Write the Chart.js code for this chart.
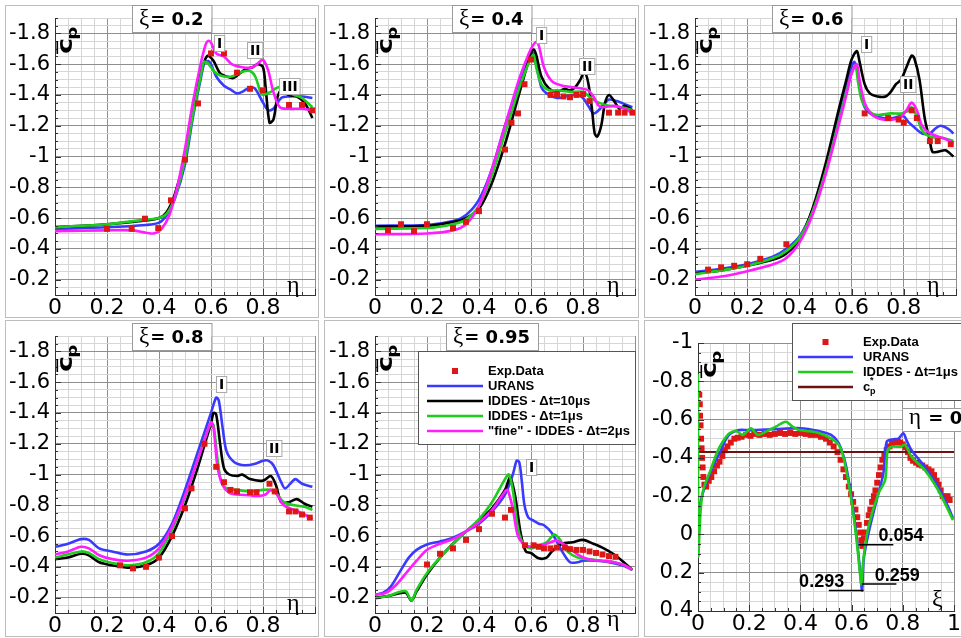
<!DOCTYPE html>
<html>
<head>
<meta charset="utf-8">
<script src="https://cdn.jsdelivr.net/npm/chart.js@4.4.1/dist/chart.umd.min.js"></script>
<style>
  body { margin: 0; background: #fff; }
  #wrap { position: relative; width: 961px; height: 638px; overflow: hidden; background: #fff; }
  .frame { position: absolute; border: 1px solid #bdbdbd; box-sizing: border-box; }
  canvas { position: absolute; }
</style>
</head>
<body>
<div id="wrap">
  <div class="frame" style="left:5px;top:5px;width:314px;height:313px"></div>
  <div class="frame" style="left:324px;top:5px;width:315px;height:313px"></div>
  <div class="frame" style="left:644px;top:5px;width:322px;height:313px"></div>
  <div class="frame" style="left:5px;top:320px;width:314px;height:317px"></div>
  <div class="frame" style="left:324px;top:320px;width:315px;height:317px"></div>
  <div class="frame" style="left:644px;top:320px;width:322px;height:317px"></div>
  <canvas id="p1" width="320" height="318" style="left:0;top:0"></canvas>
  <canvas id="p2" width="320" height="318" style="left:320px;top:0"></canvas>
  <canvas id="p3" width="321" height="318" style="left:640px;top:0"></canvas>
  <canvas id="p4" width="320" height="318" style="left:0;top:318px"></canvas>
  <canvas id="p5" width="320" height="318" style="left:320px;top:318px"></canvas>
  <canvas id="p6" width="321" height="320" style="left:640px;top:318px"></canvas>
</div>
<script>
// ---- xi = 0.2 ----
const xi02_exp = [[0.2,-0.53],[0.295,-0.53],[0.346,-0.596],[0.397,-0.535],[0.446,-0.715],[0.5,-0.98],[0.55,-1.345],[0.6,-1.67],[0.65,-1.67],[0.7,-1.545],[0.75,-1.44],[0.8,-1.43],[0.9,-1.335],[0.95,-1.335],[0.99,-1.3]];
const xi02_urans = [[0,-0.53],[0.2,-0.54],[0.35,-0.555],[0.4,-0.57],[0.43,-0.62],[0.46,-0.72],[0.5,-0.95],[0.53,-1.25],[0.56,-1.5],[0.575,-1.61],[0.59,-1.62],[0.6,-1.6],[0.62,-1.52],[0.65,-1.46],[0.68,-1.43],[0.7,-1.41],[0.72,-1.42],[0.75,-1.45],[0.77,-1.44],[0.8,-1.35],[0.82,-1.3],[0.84,-1.31],[0.87,-1.38],[0.9,-1.39],[0.95,-1.39],[0.99,-1.38]];
const xi02_iddes10 = [[0,-0.54],[0.2,-0.56],[0.35,-0.585],[0.4,-0.6],[0.43,-0.64],[0.46,-0.75],[0.5,-1.0],[0.53,-1.3],[0.56,-1.55],[0.58,-1.64],[0.59,-1.655],[0.61,-1.62],[0.635,-1.54],[0.66,-1.52],[0.686,-1.51],[0.71,-1.54],[0.737,-1.57],[0.76,-1.58],[0.78,-1.6],[0.8,-1.58],[0.81,-1.45],[0.825,-1.22],[0.84,-1.24],[0.855,-1.38],[0.87,-1.43],[0.9,-1.4],[0.93,-1.39],[0.96,-1.35],[0.99,-1.25]];
const xi02_iddes1 = [[0,-0.54],[0.2,-0.56],[0.35,-0.59],[0.4,-0.6],[0.43,-0.63],[0.46,-0.73],[0.5,-0.98],[0.53,-1.27],[0.56,-1.52],[0.573,-1.615],[0.585,-1.61],[0.6,-1.58],[0.62,-1.54],[0.65,-1.52],[0.68,-1.52],[0.72,-1.55],[0.75,-1.555],[0.77,-1.52],[0.79,-1.42],[0.8,-1.4],[0.83,-1.42],[0.86,-1.45],[0.88,-1.42],[0.92,-1.4],[0.95,-1.38],[0.99,-1.32]];
const xi02_fine = [[0,-0.515],[0.2,-0.52],[0.3,-0.52],[0.35,-0.505],[0.38,-0.5],[0.41,-0.53],[0.44,-0.62],[0.47,-0.8],[0.5,-1.05],[0.53,-1.35],[0.56,-1.6],[0.58,-1.73],[0.59,-1.752],[0.6,-1.74],[0.62,-1.67],[0.65,-1.65],[0.68,-1.6],[0.72,-1.58],[0.76,-1.58],[0.79,-1.62],[0.8,-1.63],[0.82,-1.56],[0.84,-1.42],[0.865,-1.32],[0.9,-1.31],[0.95,-1.31],[0.99,-1.3]];
const xi02_marks = [['I',0.63,-1.74],['II',0.77,-1.69],['III',0.9,-1.46]];

// ---- xi = 0.4 ----
const xi04_exp = [[0.05,-0.52],[0.1,-0.56],[0.15,-0.515],[0.2,-0.56],[0.3,-0.535],[0.35,-0.575],[0.4,-0.645],[0.5,-1.045],[0.525,-1.22],[0.55,-1.28],[0.575,-1.47],[0.6,-1.63],[0.675,-1.4],[0.7,-1.4],[0.725,-1.39],[0.75,-1.385],[0.775,-1.4],[0.8,-1.405],[0.825,-1.36],[0.9,-1.285],[0.935,-1.285],[0.96,-1.285],[0.99,-1.285]];
const xi04_urans = [[0,-0.55],[0.2,-0.555],[0.3,-0.58],[0.35,-0.62],[0.4,-0.72],[0.45,-0.92],[0.5,-1.2],[0.55,-1.45],[0.58,-1.58],[0.6,-1.66],[0.61,-1.67],[0.62,-1.6],[0.64,-1.45],[0.66,-1.41],[0.7,-1.38],[0.73,-1.39],[0.76,-1.4],[0.78,-1.4],[0.8,-1.38],[0.82,-1.33],[0.84,-1.28],[0.86,-1.3],[0.88,-1.34],[0.9,-1.37],[0.93,-1.36],[0.96,-1.34],[0.99,-1.32]];
const xi04_iddes10 = [[0,-0.545],[0.2,-0.55],[0.3,-0.575],[0.35,-0.6],[0.4,-0.66],[0.45,-0.83],[0.5,-1.08],[0.55,-1.38],[0.58,-1.56],[0.6,-1.67],[0.61,-1.695],[0.62,-1.66],[0.64,-1.52],[0.67,-1.44],[0.7,-1.42],[0.73,-1.44],[0.75,-1.43],[0.77,-1.45],[0.79,-1.5],[0.805,-1.55],[0.82,-1.48],[0.835,-1.3],[0.845,-1.15],[0.855,-1.13],[0.87,-1.2],[0.885,-1.35],[0.9,-1.4],[0.92,-1.36],[0.94,-1.31],[0.96,-1.33],[0.99,-1.3]];
const xi04_iddes1 = [[0,-0.53],[0.2,-0.535],[0.3,-0.56],[0.35,-0.59],[0.4,-0.68],[0.45,-0.88],[0.5,-1.15],[0.55,-1.42],[0.58,-1.56],[0.6,-1.64],[0.61,-1.66],[0.62,-1.58],[0.64,-1.47],[0.67,-1.43],[0.7,-1.43],[0.75,-1.42],[0.8,-1.42],[0.83,-1.38],[0.86,-1.35],[0.9,-1.33],[0.95,-1.32],[0.99,-1.3]];
const xi04_fine = [[0,-0.495],[0.2,-0.5],[0.3,-0.52],[0.35,-0.56],[0.4,-0.68],[0.45,-0.92],[0.5,-1.2],[0.55,-1.48],[0.58,-1.62],[0.6,-1.7],[0.62,-1.745],[0.63,-1.72],[0.65,-1.58],[0.68,-1.49],[0.72,-1.46],[0.76,-1.45],[0.8,-1.44],[0.82,-1.43],[0.84,-1.39],[0.86,-1.33],[0.88,-1.32],[0.92,-1.33],[0.96,-1.31],[0.99,-1.28]];
const xi04_marks = [['I',0.64,-1.79],['II',0.815,-1.59]];

// ---- xi = 0.6 ----
const xi06_exp = [[0.05,-0.265],[0.1,-0.28],[0.15,-0.29],[0.2,-0.3],[0.25,-0.335],[0.35,-0.43],[0.65,-1.28],[0.74,-1.25],[0.78,-1.24],[0.8,-1.22],[0.83,-1.3],[0.85,-1.25],[0.9,-1.1],[0.93,-1.1],[0.98,-1.08]];
const xi06_urans = [[0,-0.25],[0.1,-0.27],[0.2,-0.3],[0.3,-0.35],[0.35,-0.4],[0.4,-0.48],[0.45,-0.65],[0.5,-0.92],[0.55,-1.25],[0.58,-1.45],[0.6,-1.58],[0.61,-1.615],[0.62,-1.57],[0.635,-1.42],[0.65,-1.32],[0.68,-1.27],[0.72,-1.25],[0.76,-1.25],[0.78,-1.26],[0.8,-1.26],[0.82,-1.22],[0.84,-1.19],[0.87,-1.15],[0.9,-1.15],[0.92,-1.18],[0.94,-1.2],[0.97,-1.18],[0.99,-1.15]];
const xi06_iddes10 = [[0,-0.24],[0.1,-0.26],[0.2,-0.29],[0.3,-0.33],[0.35,-0.37],[0.4,-0.46],[0.45,-0.66],[0.5,-0.95],[0.55,-1.3],[0.58,-1.5],[0.6,-1.63],[0.62,-1.685],[0.63,-1.62],[0.65,-1.47],[0.67,-1.41],[0.7,-1.39],[0.73,-1.39],[0.75,-1.42],[0.77,-1.47],[0.79,-1.5],[0.81,-1.58],[0.83,-1.655],[0.84,-1.64],[0.86,-1.5],[0.88,-1.25],[0.9,-1.1],[0.91,-1.03],[0.93,-1.03],[0.96,-1.04],[0.99,-1.0]];
const xi06_iddes1 = [[0,-0.235],[0.1,-0.26],[0.2,-0.29],[0.3,-0.34],[0.35,-0.385],[0.4,-0.47],[0.45,-0.64],[0.5,-0.9],[0.55,-1.22],[0.58,-1.42],[0.6,-1.54],[0.615,-1.59],[0.625,-1.48],[0.64,-1.36],[0.67,-1.29],[0.7,-1.27],[0.75,-1.28],[0.79,-1.28],[0.82,-1.3],[0.83,-1.32],[0.85,-1.26],[0.87,-1.17],[0.9,-1.13],[0.95,-1.12],[0.99,-1.1]];
const xi06_fine = [[0,-0.2],[0.1,-0.22],[0.2,-0.255],[0.3,-0.3],[0.35,-0.34],[0.4,-0.44],[0.45,-0.62],[0.5,-0.88],[0.55,-1.2],[0.58,-1.4],[0.6,-1.54],[0.62,-1.6],[0.63,-1.5],[0.65,-1.35],[0.68,-1.27],[0.72,-1.24],[0.76,-1.24],[0.79,-1.26],[0.81,-1.3],[0.83,-1.35],[0.85,-1.3],[0.87,-1.2],[0.9,-1.15],[0.95,-1.12],[0.99,-1.09]];
const xi06_marks = [['I',0.655,-1.73],['II',0.815,-1.47]];

// ---- xi = 0.8 ----
const xi08_exp = [[0.25,-0.41],[0.3,-0.39],[0.35,-0.4],[0.4,-0.46],[0.45,-0.6],[0.5,-0.78],[0.525,-0.91],[0.575,-1.2],[0.62,-1.05],[0.65,-0.95],[0.675,-0.9],[0.7,-0.89],[0.75,-0.885],[0.775,-0.885],[0.825,-0.94],[0.845,-0.89],[0.9,-0.76],[0.925,-0.76],[0.95,-0.74],[0.98,-0.72]];
const xi08_urans = [[0,-0.53],[0.05,-0.55],[0.1,-0.58],[0.13,-0.575],[0.17,-0.52],[0.22,-0.5],[0.28,-0.48],[0.35,-0.5],[0.4,-0.55],[0.45,-0.68],[0.5,-0.9],[0.55,-1.15],[0.58,-1.3],[0.6,-1.4],[0.62,-1.5],[0.63,-1.48],[0.645,-1.3],[0.66,-1.15],[0.69,-1.08],[0.73,-1.06],[0.77,-1.07],[0.8,-1.09],[0.82,-1.09],[0.84,-1.06],[0.87,-0.95],[0.885,-0.91],[0.91,-0.95],[0.925,-0.97],[0.95,-0.94],[0.99,-0.92]];
const xi08_iddes10 = [[0,-0.45],[0.05,-0.46],[0.1,-0.485],[0.13,-0.475],[0.17,-0.43],[0.22,-0.41],[0.28,-0.395],[0.35,-0.41],[0.4,-0.46],[0.45,-0.6],[0.5,-0.8],[0.55,-1.05],[0.58,-1.22],[0.6,-1.33],[0.61,-1.4],[0.62,-1.39],[0.635,-1.2],[0.65,-1.04],[0.67,-1.0],[0.7,-0.99],[0.72,-1.0],[0.75,-0.97],[0.8,-0.96],[0.83,-0.99],[0.85,-0.93],[0.87,-0.82],[0.9,-0.82],[0.93,-0.84],[0.96,-0.81],[0.99,-0.79]];
const xi08_iddes1 = [[0,-0.46],[0.1,-0.5],[0.13,-0.49],[0.17,-0.45],[0.22,-0.425],[0.28,-0.41],[0.35,-0.43],[0.4,-0.49],[0.45,-0.64],[0.5,-0.85],[0.55,-1.1],[0.58,-1.25],[0.6,-1.33],[0.61,-1.32],[0.625,-1.1],[0.64,-0.95],[0.66,-0.91],[0.7,-0.9],[0.75,-0.89],[0.8,-0.9],[0.83,-0.9],[0.85,-0.88],[0.88,-0.82],[0.92,-0.8],[0.96,-0.79],[0.99,-0.77]];
const xi08_fine = [[0,-0.48],[0.05,-0.5],[0.1,-0.53],[0.13,-0.52],[0.17,-0.475],[0.22,-0.45],[0.28,-0.44],[0.35,-0.46],[0.4,-0.52],[0.45,-0.66],[0.5,-0.86],[0.55,-1.1],[0.58,-1.25],[0.6,-1.34],[0.61,-1.3],[0.625,-1.05],[0.645,-0.93],[0.67,-0.88],[0.7,-0.87],[0.75,-0.865],[0.78,-0.86],[0.81,-0.87],[0.83,-0.9],[0.85,-0.88],[0.88,-0.8],[0.92,-0.77],[0.96,-0.74],[0.99,-0.71]];
const xi08_marks = [['I',0.64,-1.59],['II',0.84,-1.17]];

// ---- xi = 0.95 ----
const xi095_exp = [[0.2,-0.415],[0.25,-0.485],[0.3,-0.52],[0.35,-0.575],[0.4,-0.645],[0.45,-0.745],[0.5,-0.72],[0.523,-0.77],[0.577,-0.54],[0.61,-0.54],[0.63,-0.53],[0.65,-0.52],[0.675,-0.52],[0.7,-0.525],[0.73,-0.525],[0.75,-0.515],[0.775,-0.51],[0.8,-0.51],[0.825,-0.5],[0.85,-0.49],[0.875,-0.48],[0.9,-0.47],[0.925,-0.465]];
const xi095_urans = [[0,-0.22],[0.03,-0.23],[0.06,-0.27],[0.1,-0.38],[0.13,-0.46],[0.16,-0.51],[0.2,-0.545],[0.25,-0.565],[0.3,-0.59],[0.35,-0.63],[0.4,-0.68],[0.45,-0.76],[0.5,-0.87],[0.53,-1.0],[0.545,-1.09],[0.555,-1.08],[0.565,-0.95],[0.575,-0.8],[0.59,-0.72],[0.61,-0.7],[0.63,-0.68],[0.65,-0.67],[0.68,-0.62],[0.72,-0.5],[0.75,-0.43],[0.78,-0.43],[0.8,-0.44],[0.85,-0.44],[0.9,-0.43],[0.95,-0.41],[0.99,-0.38]];
const xi095_iddes10 = [[0,-0.2],[0.05,-0.21],[0.1,-0.23],[0.12,-0.23],[0.14,-0.18],[0.16,-0.24],[0.2,-0.35],[0.25,-0.46],[0.3,-0.55],[0.35,-0.63],[0.4,-0.7],[0.45,-0.78],[0.5,-0.9],[0.52,-0.98],[0.54,-0.85],[0.56,-0.62],[0.58,-0.5],[0.6,-0.49],[0.63,-0.455],[0.66,-0.46],[0.68,-0.5],[0.72,-0.55],[0.76,-0.56],[0.8,-0.575],[0.84,-0.55],[0.88,-0.52],[0.92,-0.48],[0.95,-0.44],[0.99,-0.38]];
const xi095_iddes1 = [[0,-0.195],[0.05,-0.21],[0.1,-0.24],[0.12,-0.24],[0.14,-0.18],[0.16,-0.25],[0.2,-0.36],[0.25,-0.46],[0.3,-0.55],[0.35,-0.63],[0.4,-0.71],[0.45,-0.82],[0.5,-0.97],[0.515,-1.0],[0.53,-0.9],[0.55,-0.65],[0.57,-0.55],[0.6,-0.52],[0.63,-0.54],[0.66,-0.56],[0.69,-0.61],[0.71,-0.58],[0.74,-0.5],[0.78,-0.46],[0.82,-0.45],[0.87,-0.44],[0.92,-0.43],[0.96,-0.41],[0.99,-0.38]];
const xi095_fine = [[0,-0.22],[0.04,-0.23],[0.08,-0.28],[0.12,-0.36],[0.16,-0.44],[0.2,-0.51],[0.25,-0.55],[0.3,-0.58],[0.35,-0.63],[0.4,-0.69],[0.45,-0.77],[0.5,-0.89],[0.51,-0.9],[0.53,-0.78],[0.55,-0.6],[0.58,-0.54],[0.62,-0.53],[0.66,-0.55],[0.7,-0.57],[0.74,-0.53],[0.78,-0.48],[0.82,-0.45],[0.87,-0.44],[0.92,-0.43],[0.96,-0.41],[0.99,-0.38]];
const xi095_marks = [['I',0.6,-1.05]];

// ---- eta = 0 ----
const eta0_exp = [[0.005,-0.73],[0.007,-0.68],[0.008,-0.62],[0.01,-0.57],[0.012,-0.5],[0.014,-0.45],[0.016,-0.4],[0.018,-0.35],[0.021,-0.3],[0.025,-0.26],[0.032,-0.25],[0.042,-0.28],[0.052,-0.3],[0.063,-0.33],[0.074,-0.36],[0.084,-0.38],[0.095,-0.41],[0.105,-0.44],[0.115,-0.46],[0.128,-0.48],[0.142,-0.5],[0.155,-0.505],[0.17,-0.51],[0.188,-0.52],[0.205,-0.515],[0.22,-0.525],[0.24,-0.52],[0.26,-0.525],[0.28,-0.52],[0.3,-0.525],[0.32,-0.53],[0.34,-0.525],[0.36,-0.53],[0.38,-0.525],[0.4,-0.53],[0.42,-0.525],[0.44,-0.52],[0.46,-0.52],[0.48,-0.51],[0.5,-0.5],[0.515,-0.48],[0.53,-0.46],[0.545,-0.43],[0.557,-0.39],[0.568,-0.34],[0.578,-0.3],[0.589,-0.25],[0.598,-0.21],[0.606,-0.17],[0.615,-0.13],[0.622,-0.09],[0.628,-0.05],[0.634,-0.01],[0.638,0.03],[0.642,0.06],[0.648,0.02],[0.653,-0.01],[0.66,-0.06],[0.667,-0.1],[0.673,-0.13],[0.68,-0.17],[0.687,-0.2],[0.693,-0.23],[0.7,-0.27],[0.707,-0.31],[0.713,-0.35],[0.72,-0.39],[0.728,-0.42],[0.737,-0.44],[0.748,-0.46],[0.758,-0.475],[0.77,-0.48],[0.78,-0.485],[0.79,-0.48],[0.8,-0.47],[0.81,-0.455],[0.82,-0.43],[0.83,-0.4],[0.84,-0.385],[0.852,-0.375],[0.864,-0.365],[0.876,-0.36],[0.888,-0.35],[0.9,-0.34],[0.912,-0.33],[0.922,-0.31],[0.932,-0.28],[0.94,-0.26],[0.948,-0.23],[0.956,-0.2],[0.965,-0.19],[0.975,-0.2],[0.983,-0.18]];
const eta0_urans = [[0,-0.05],[0.01,-0.17],[0.03,-0.26],[0.06,-0.36],[0.09,-0.44],[0.11,-0.5],[0.13,-0.53],[0.16,-0.545],[0.2,-0.545],[0.3,-0.55],[0.4,-0.555],[0.472,-0.54],[0.52,-0.52],[0.549,-0.478],[0.576,-0.371],[0.601,-0.18],[0.621,0.03],[0.634,0.203],[0.641,0.293],[0.647,0.134],[0.666,-0.006],[0.698,-0.18],[0.724,-0.319],[0.737,-0.484],[0.763,-0.497],[0.783,-0.5],[0.802,-0.528],[0.815,-0.49],[0.834,-0.44],[0.886,-0.354],[0.938,-0.25],[0.977,-0.145],[0.996,-0.084]];
const eta0_iddes1 = [[0,-0.84],[0.001,0.11],[0.01,-0.12],[0.02,-0.23],[0.05,-0.34],[0.075,-0.43],[0.097,-0.485],[0.123,-0.528],[0.149,-0.54],[0.175,-0.52],[0.207,-0.554],[0.233,-0.52],[0.265,-0.537],[0.304,-0.563],[0.343,-0.589],[0.369,-0.563],[0.395,-0.545],[0.472,-0.53],[0.549,-0.47],[0.576,-0.354],[0.601,-0.163],[0.621,0.048],[0.634,0.22],[0.638,0.259],[0.647,0.117],[0.666,-0.04],[0.705,-0.215],[0.731,-0.284],[0.741,-0.44],[0.757,-0.458],[0.789,-0.458],[0.809,-0.467],[0.834,-0.406],[0.886,-0.336],[0.938,-0.232],[0.977,-0.128],[0.996,-0.075]];
const eta0_cpStar = [[0,-0.43],[1,-0.43]];
const eta0_lvl054 = [[0.627,0.054],[0.763,0.054]];
const eta0_lvl259 = [[0.64,0.259],[0.775,0.259]];
const eta0_lvl293 = [[0.511,0.293],[0.647,0.293]];
const eta0_notes = [['0.054',0.705,0.036],['0.259',0.69,0.241],['0.293',0.395,0.275]];

const RED = '#dd1616', BLUE = '#3a3aff', BLACK = '#000000', GREEN = '#1ecc1e', MAGENTA = '#ff1cff', MAROON = '#6b1212';
const SANS = '"DejaVu Sans", sans-serif';
const LEG = 'bold 13px "Liberation Sans", Arial, sans-serif';
const SERIF = '"Liberation Serif", "DejaVu Serif", serif';

const toXY = a => a.map(([x, y]) => ({ x, y }));
const isMajor = v => Math.abs(v * 5 - Math.round(v * 5)) < 1e-6;
const fmt = v => String(Math.round(v * 10) / 10);

const curve = (label, data, color, order, width = 2.6) => ({
  label, data: toXY(data), borderColor: color, backgroundColor: color,
  borderWidth: width, pointRadius: 0, tension: 0.3, order,
});
const expSet = (data, order = 0) => ({
  label: 'Exp.Data', data: toXY(data), showLine: false, pointStyle: 'rect',
  pointRadius: 4.2, backgroundColor: RED, borderColor: RED, borderWidth: 0, order,
});

function drawCp(ctx, x, y) {
  ctx.save();
  ctx.translate(x, y);
  ctx.rotate(-Math.PI / 2);
  ctx.scale(1.3, 1);
  ctx.fillStyle = '#000';
  ctx.textAlign = 'left';
  ctx.textBaseline = 'alphabetic';
  ctx.font = 'bold 21px ' + SANS;
  ctx.fillText('c', 0, 0);
  ctx.font = 'bold 14px ' + SANS;
  ctx.fillText('p', 11, 5);
  ctx.fillRect(0, -15.5, 10, 1.6);
  ctx.restore();
}

// inward tick marks along the left and bottom axes
function drawTicks(ctx, x, y) {
  ctx.save();
  ctx.strokeStyle = '#333'; ctx.lineWidth = 1;
  ctx.beginPath();
  x.ticks.forEach(t => {
    const px = Math.round(x.getPixelForValue(t.value)) + 0.5;
    ctx.moveTo(px, y.bottom); ctx.lineTo(px, y.bottom - (isMajor(t.value) ? 6 : 3));
  });
  y.ticks.forEach(t => {
    const py = Math.round(y.getPixelForValue(t.value)) + 0.5;
    ctx.moveTo(x.left, py); ctx.lineTo(x.left + (isMajor(t.value) ? 6 : 3), py);
  });
  ctx.stroke();
  ctx.restore();
}

function drawTitle(ctx, sym, txt, cx, top, h, boxW) {
  ctx.save();
  const symFont = '23px ' + SERIF, txtFont = 'bold 18px ' + SANS;
  ctx.font = symFont; const w1 = ctx.measureText(sym).width;
  ctx.font = txtFont; const w2 = ctx.measureText(txt).width;
  const w = boxW === undefined ? w1 + w2 + 16 : boxW;
  const x = boxW === undefined ? Math.round(cx - w / 2) : cx;
  ctx.fillStyle = '#fff';
  ctx.fillRect(x, top, w, h);
  ctx.strokeStyle = '#9a9a9a'; ctx.lineWidth = 1;
  ctx.strokeRect(x + 0.5, top + 0.5, w, h);
  ctx.fillStyle = '#000'; ctx.textAlign = 'left'; ctx.textBaseline = 'alphabetic';
  ctx.font = symFont; ctx.fillText(sym, x + 7, top + h - 7);
  ctx.font = txtFont; ctx.fillText(txt, x + 8 + w1, top + h - 7);
  ctx.restore();
}

function drawLegend(ctx, lg) {
  ctx.save();
  ctx.fillStyle = '#fff';
  ctx.fillRect(lg.x, lg.y, lg.w, lg.h);
  ctx.strokeStyle = '#555'; ctx.lineWidth = 1;
  ctx.strokeRect(lg.x + 0.5, lg.y + 0.5, lg.w, lg.h);
  lg.items.forEach((it, i) => {
    const yy = lg.y0 + i * lg.dy;
    if (it.exp) {
      ctx.fillStyle = RED;
      ctx.fillRect((lg.s0 + lg.s1) / 2 - 3, yy - 3, 6, 6);
    } else {
      ctx.strokeStyle = it.color; ctx.lineWidth = 2.5;
      ctx.beginPath(); ctx.moveTo(lg.s0, yy); ctx.lineTo(lg.s1, yy); ctx.stroke();
    }
    ctx.fillStyle = '#000'; ctx.textAlign = 'left'; ctx.textBaseline = 'middle';
    ctx.font = LEG;
    if (it.cpStar) {
      ctx.fillText('c', lg.tx, yy);
      ctx.font = 'bold 9px "Liberation Sans", Arial, sans-serif';
      ctx.fillText('*', lg.tx + 7, yy - 6);
      ctx.fillText('p', lg.tx + 7, yy + 5);
    } else {
      ctx.fillText(it.text, lg.tx, yy);
    }
  });
  ctx.restore();
}

const decor = {
  id: 'decor',
  afterDraw(chart, args, o) {
    const { ctx, scales: { x, y } } = chart;
    drawTicks(ctx, x, y);
    drawCp(ctx, o.cp[0], o.cp[1]);
    ctx.save();
    ctx.fillStyle = '#000'; ctx.textAlign = 'left'; ctx.textBaseline = 'alphabetic';
    ctx.font = '24px ' + SERIF;
    ctx.fillText(o.axisSym[0], o.axisSym[1], o.axisSym[2]);
    (o.marks || []).forEach(([t, mx, my]) => {
      ctx.font = 'bold 14px ' + SANS;
      const w = ctx.measureText(t).width + 5, h = 16;
      const px = Math.round(x.getPixelForValue(mx) - w / 2), py = Math.round(y.getPixelForValue(my) - h / 2);
      ctx.fillStyle = '#fff'; ctx.fillRect(px, py, w, h);
      ctx.strokeStyle = '#aaa'; ctx.lineWidth = 1; ctx.strokeRect(px + 0.5, py + 0.5, w, h);
      ctx.fillStyle = '#000'; ctx.textBaseline = 'middle'; ctx.textAlign = 'center';
      ctx.fillText(t, px + w / 2 + 0.5, py + h / 2 + 1);
    });
    (o.notes || []).forEach(([t, nx, ny]) => {
      ctx.font = 'bold 18px "Liberation Sans", Arial, sans-serif';
      ctx.fillStyle = '#000'; ctx.textAlign = 'left'; ctx.textBaseline = 'alphabetic';
      ctx.fillText(t, x.getPixelForValue(nx), y.getPixelForValue(ny));
    });
    ctx.restore();
    if (o.legend) drawLegend(ctx, o.legend);
    const t = o.title;
    drawTitle(ctx, t.sym, t.txt, t.cx, t.top, t.h, t.boxW);
  },
};

function makePanel(id, datasets, o) {
  new Chart(document.getElementById(id), {
    type: 'line',
    data: { datasets },
    options: {
      responsive: false, animation: false, events: [],
      layout: { padding: { top: o.top, right: o.right, left: 0, bottom: 0 } },
      plugins: { legend: { display: false }, tooltip: { enabled: false }, decor: o },
      scales: {
        x: {
          type: 'linear', min: 0, max: 1,
          afterFit: s => { s.height = o.xh; },
          border: { color: '#333', width: 1 },
          grid: { color: c => isMajor(c.tick.value) ? '#8e8e8e' : '#d6d6d6', drawTicks: false },
          ticks: {
            stepSize: 0.05, autoSkip: false, maxRotation: 0, padding: 0, color: '#000',
            font: { family: SANS, size: 22 },
            callback: v => isMajor(v) && (o.showOne || v < 0.99) ? fmt(v) : '',
          },
        },
        y: {
          type: 'linear', reverse: true, min: o.ymin, max: o.ymax,
          afterFit: s => { s.width = o.yw; },
          border: { color: '#333', width: 1 },
          grid: { color: c => isMajor(c.tick.value) ? '#8e8e8e' : '#d6d6d6', drawTicks: false },
          ticks: {
            stepSize: 0.05, autoSkip: false, padding: 5, color: '#000',
            font: { family: SANS, size: 21 },
            callback: v => isMajor(v) ? fmt(v) : '',
          },
        },
      },
    },
    plugins: [decor],
  });
}

function xiPanel(id, exp, urans, iddes10, iddes1, fine, marks, titleTxt, etaY, legend) {
  makePanel(id, [
    expSet(exp),
    curve('"fine" - IDDES - Δt=2μs', fine, MAGENTA, 1),
    curve('IDDES - Δt=1μs', iddes1, GREEN, 2),
    curve('IDDES - Δt=10μs', iddes10, BLACK, 3),
    curve('URANS', urans, BLUE, 4),
  ], {
    top: 18, right: 5, xh: 23, yw: 55, ymin: -1.9, ymax: -0.1,
    cp: [72, 54], axisSym: ['η', 287, etaY], marks, legend,
    title: { sym: 'ξ', txt: titleTxt, cx: 172, top: 5, h: 27 },
  });
}

const legend5 = {
  x: 98, y: 33, w: 217, h: 93, s0: 107, s1: 163, tx: 168, y0: 53, dy: 15,
  items: [
    { exp: true, text: 'Exp.Data' },
    { color: BLUE, text: 'URANS' },
    { color: BLACK, text: 'IDDES - Δt=10μs' },
    { color: GREEN, text: 'IDDES - Δt=1μs' },
    { color: MAGENTA, text: '"fine" - IDDES - Δt=2μs' },
  ],
};
const legend6 = {
  x: 152, y: 5, w: 190, h: 77, s0: 158, s1: 213, tx: 223, y0: 24, dy: 15,
  items: [
    { exp: true, text: 'Exp.Data' },
    { color: BLUE, text: 'URANS' },
    { color: GREEN, text: 'IDDES - Δt=1μs' },
    { color: MAROON, cpStar: true },
  ],
};

xiPanel('p1', xi02_exp, xi02_urans, xi02_iddes10, xi02_iddes1, xi02_fine, xi02_marks, '= 0.2', 292);
xiPanel('p2', xi04_exp, xi04_urans, xi04_iddes10, xi04_iddes1, xi04_fine, xi04_marks, '= 0.4', 292);
xiPanel('p3', xi06_exp, xi06_urans, xi06_iddes10, xi06_iddes1, xi06_fine, xi06_marks, '= 0.6', 292);
xiPanel('p4', xi08_exp, xi08_urans, xi08_iddes10, xi08_iddes1, xi08_fine, xi08_marks, '= 0.8', 292);
xiPanel('p5', xi095_exp, xi095_urans, xi095_iddes10, xi095_iddes1, xi095_fine, xi095_marks, '= 0.95', 308, legend5);

makePanel('p6', [
  curve('0.054', eta0_lvl054, BLACK, 0, 1.6),
  curve('0.259', eta0_lvl259, BLACK, 0, 1.6),
  curve('0.293', eta0_lvl293, BLACK, 0, 1.6),
  curve('IDDES - Δt=1μs', eta0_iddes1, GREEN, 1),
  curve('URANS', eta0_urans, BLUE, 2),
  curve('c*p', eta0_cpStar, MAROON, 3, 2),
  expSet(eta0_exp, 4),
], {
  top: 25, right: 5, xh: 27, yw: 58, ymin: -1, ymax: 0.4, showOne: true,
  cp: [76, 60], axisSym: ['ξ', 292, 288], notes: eta0_notes, legend: legend6,
  title: { sym: 'η', txt: ' = 0', cx: 262, top: 90, h: 23, boxW: 80 },
});
</script>
</body>
</html>
